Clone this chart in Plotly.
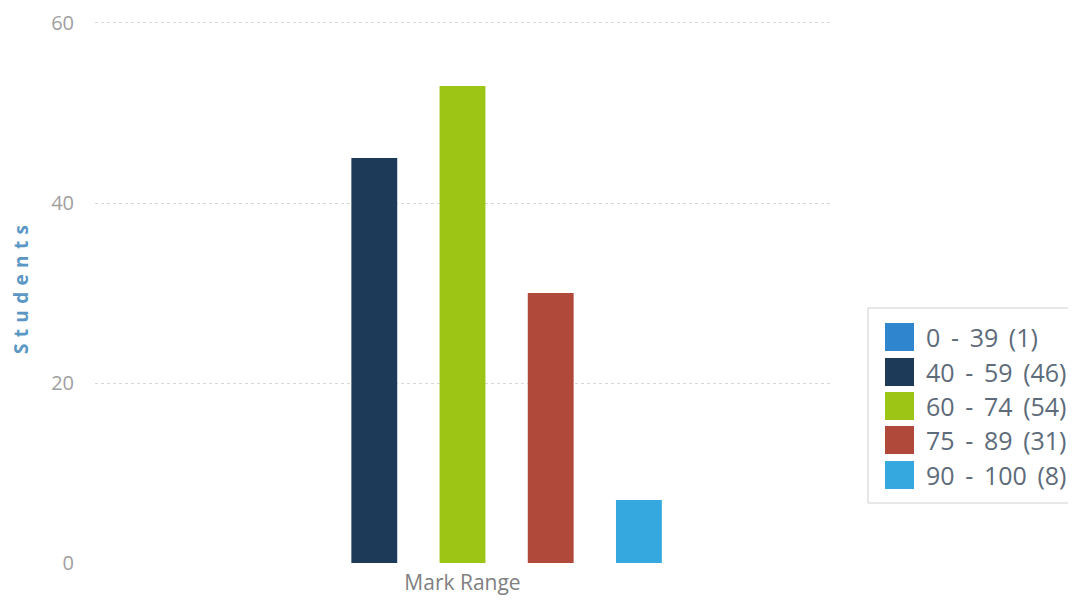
import plotly.graph_objects as go

categories = ["Mark Range"]
ranges = ["0 - 39", "40 - 59", "60 - 74", "75 - 89", "90 - 100"]
legend_counts = [1, 46, 54, 31, 8]
bar_values = [0, 45, 53, 30, 7]
colors = ["#2f86cf", "#1d3a58", "#9dc516", "#b0493a", "#35a8df"]
y_ticks = [0, 20, 40, 60]

fig = go.Figure()
for name, val, col in zip(ranges, bar_values, colors):
    fig.add_trace(go.Bar(x=categories, y=[val], name=name, marker=dict(color=col, line=dict(width=0)),
                         showlegend=False))

W, H = 1076, 609
OFF = 8  # page body margin
PL, PR, PT, PB = 87, 822, 13, 556
pw, ph = PR - PL, PB - PT
def px(x):  # x given in page pixels
    return (x - OFF - PL) / pw
def py(y):
    return (PB - (y - OFF)) / ph

lx0, lx1, ly0, ly1 = 868, 1074, 308, 503
shapes = [dict(type="rect", xref="paper", yref="paper",
               x0=px(lx0), x1=px(lx1), y0=py(ly1), y1=py(ly0),
               line=dict(color="#cfcfcf", width=1), fillcolor="white", layer="below")]
annotations = []
row_y = [337, 372, 406, 440, 475]
for name, cnt, col, yc in zip(ranges, legend_counts, colors, row_y):
    shapes.append(dict(type="rect", xref="paper", yref="paper",
                       x0=px(885), x1=px(914), y0=py(yc + 14), y1=py(yc - 14),
                       line=dict(width=0), fillcolor=col))
    label = f"{name} ({cnt})".replace(" ", " &#8201;")
    annotations.append(dict(xref="paper", yref="paper", x=px(924), y=py(yc),
                            text=label, showarrow=False, xanchor="left", yanchor="middle",
                            font=dict(family="Open Sans", size=25, color="#5d6b7a")))

annotations.append(dict(xref="paper", yref="paper", x=px(21), y=py(290), textangle=-90,
                        text="<b>" + "&#8196;".join("Students") + "</b>", showarrow=False,
                        xanchor="center", yanchor="middle",
                        font=dict(family="Open Sans", size=19, color="#5b97c4")))

fig.update_layout(
    width=W, height=H,
    margin=dict(l=PL, r=W - PR, t=PT, b=H - PB, autoexpand=False),
    paper_bgcolor="white", plot_bgcolor="white",
    barmode="group", bargap=0.4, bargroupgap=0.48,
    font=dict(family="Open Sans", color="#888"),
    shapes=shapes, annotations=annotations,
    xaxis=dict(showgrid=False, showline=False, zeroline=False, ticks="", automargin=False,
               tickfont=dict(size=21, color="#808080"), ticklabelstandoff=4),
    yaxis=dict(range=[-0.1, 60.22], tickvals=y_ticks, showgrid=True, gridcolor="#d8d8d8", griddash="dot",
               gridwidth=1, zeroline=False, showline=False, ticks="", automargin=False,
               ticklabeloverflow="allow",
               tickfont=dict(size=20, color="#a0a0a0"), ticklabelstandoff=20),
)
fig.write_html("out.html")
